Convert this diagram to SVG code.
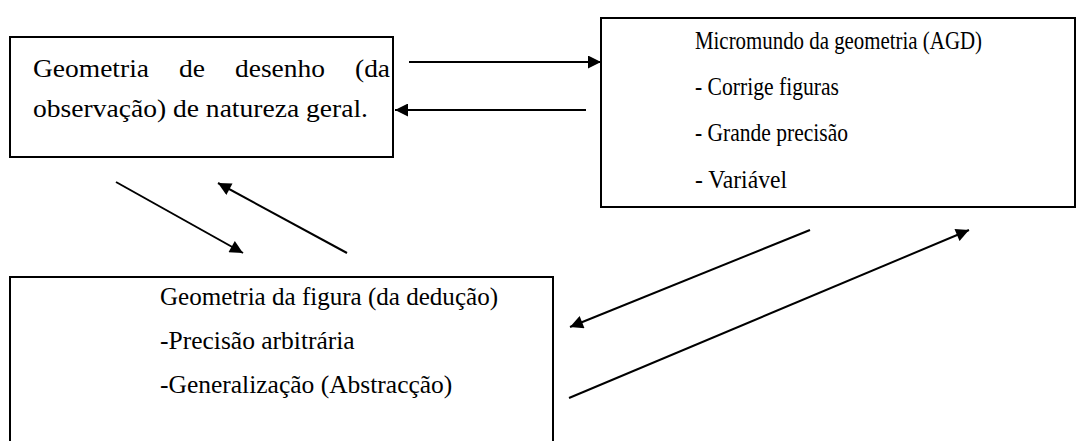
<svg xmlns="http://www.w3.org/2000/svg" width="1086" height="441" viewBox="0 0 1086 441">
<style>
.box{fill:#fff;stroke:#000;stroke-width:2}
.t{font-family:"Liberation Serif","Times New Roman",serif;fill:#000}
.t1{font-size:25px}
.t2{font-size:24.5px}
.t3{font-size:25.5px}
.c{stroke:#000;stroke-width:2;fill:none;marker-end:url(#ah)}
</style>
<defs>
<marker id="ah" viewBox="0 0 10 10" refX="10" refY="5" markerWidth="7.5" markerHeight="6.5" markerUnits="strokeWidth" orient="auto">
<path d="M0,0 L10,5 L0,10 z" fill="#000"/>
</marker>
</defs>
<g id="node-desenho">
<rect class="box" x="10" y="37" width="383" height="120"/>
<text class="t t1" x="33" y="77" textLength="116" lengthAdjust="spacingAndGlyphs">Geometria</text>
<text class="t t1" x="179" y="77" textLength="26" lengthAdjust="spacingAndGlyphs">de</text>
<text class="t t1" x="235" y="77" textLength="90" lengthAdjust="spacingAndGlyphs">desenho</text>
<text class="t t1" x="355" y="77" textLength="35" lengthAdjust="spacingAndGlyphs">(da</text>
<text class="t t1" x="33" y="117" textLength="335" lengthAdjust="spacingAndGlyphs">observação) de natureza geral.</text>
</g>
<g id="node-micromundo">
<rect class="box" x="601" y="18" width="474" height="189"/>
<text class="t t2" x="695" y="49" textLength="287" lengthAdjust="spacingAndGlyphs">Micromundo da geometria (AGD)</text>
<text class="t t2" x="695" y="95" textLength="144" lengthAdjust="spacingAndGlyphs">- Corrige figuras</text>
<text class="t t2" x="695" y="141" textLength="153" lengthAdjust="spacingAndGlyphs">- Grande precisão</text>
<text class="t t2" x="695" y="188" textLength="92" lengthAdjust="spacingAndGlyphs">- Variável</text>
</g>
<g id="node-figura">
<rect class="box" x="10" y="277" width="543" height="170"/>
<text class="t t3" x="160" y="305" textLength="338" lengthAdjust="spacingAndGlyphs">Geometria da figura (da dedução)</text>
<text class="t t3" x="160" y="349">-Precisão arbitrária</text>
<text class="t t3" x="160" y="393">-Generalização (Abstracção)</text>
</g>
<g id="connectors">
<line class="c" x1="409" y1="62" x2="601" y2="62"/>
<line class="c" x1="586" y1="110" x2="395" y2="110"/>
<line class="c" x1="116" y1="182" x2="243" y2="253"/>
<line class="c" x1="347" y1="253" x2="218" y2="183"/>
<line class="c" x1="810" y1="230" x2="570" y2="327"/>
<line class="c" x1="569" y1="398" x2="969" y2="230"/>
</g>
</svg>
